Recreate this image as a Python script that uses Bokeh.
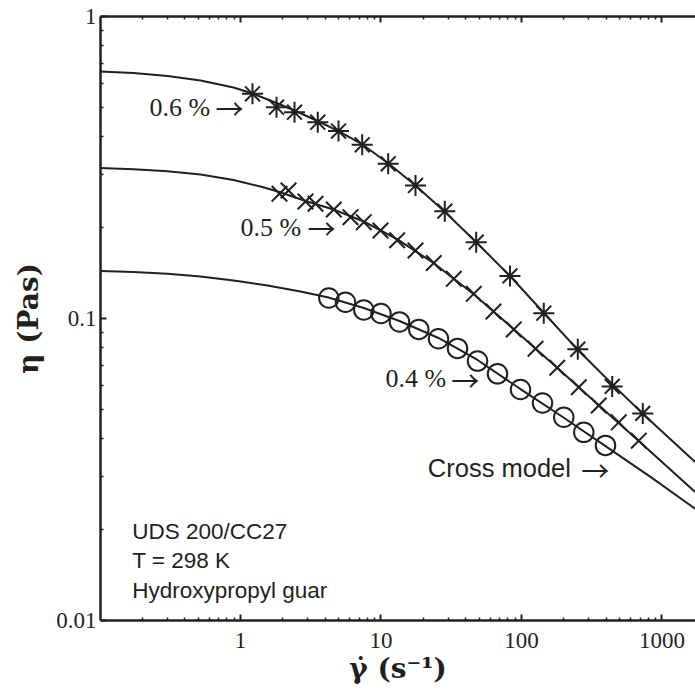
import math
from bokeh.plotting import figure
from bokeh.models import Range1d, LogAxis, Label, CustomJSTickFormatter, FixedTicker
from bokeh.embed import file_html
from bokeh.resources import INLINE

# ---------------- data ----------------
# 0.6 % (asterisks)
star_x = [1.217, 1.804, 2.423, 3.549, 4.984, 7.349, 11.25, 17.60, 28.45, 47.60,
          82.80, 144.1, 251.6, 442.2, 730.0]
star_y = [0.5546, 0.5008, 0.4820, 0.4467, 0.4176, 0.3760, 0.3253, 0.2757, 0.2266, 0.1789,
          0.1384, 0.1041, 0.0791, 0.0596, 0.0485]
# 0.5 % (crosses)
cross_x = [1.895, 2.196, 2.901, 3.419, 4.614, 6.065, 7.544, 9.918, 13.04, 17.60, 23.76,
           32.97, 45.76, 63.20, 88.14, 125.8, 179.6, 255.7, 354.9, 492.7, 683.7]
cross_y = [0.2588, 0.2653, 0.2440, 0.2398, 0.2296, 0.2165, 0.2084, 0.1956, 0.1816, 0.1680, 0.1527,
           0.1353, 0.1207, 0.1055, 0.0920, 0.0794, 0.0687, 0.0592, 0.0515, 0.0453, 0.0394]
# 0.4 % (circles)
circ_x = [4.252, 5.588, 7.544, 10.0, 13.54, 18.58, 25.66, 35.04, 48.63, 67.49,
          98.38, 141.1, 200.0, 277.6, 396.2]
circ_y = [0.1169, 0.1132, 0.1067, 0.1039, 0.0974, 0.0920, 0.0857, 0.0796, 0.0723, 0.0656,
          0.0582, 0.0525, 0.0471, 0.0420, 0.0380]

# Cross-model curves
fit6_x = [0.1, 0.1731, 0.3022, 0.5192, 0.8916, 1.217, 1.804, 2.423, 3.532, 4.984, 7.384,
          11.31, 17.60, 28.31, 47.83, 83.49, 143.4, 250.4, 444.4, 726.3, 1730]
fit6_y = [0.6574, 0.6499, 0.6353, 0.6139, 0.5818, 0.5559, 0.5171, 0.4884, 0.4508, 0.4176, 0.3769,
          0.3260, 0.2757, 0.2261, 0.1785, 0.1377, 0.1047, 0.0789, 0.0605, 0.0485, 0.0334]
fit5_x = [0.1, 0.1731, 0.3022, 0.5192, 0.8916, 1.388, 1.895, 2.901, 4.591, 7.544, 13.10,
          23.64, 45.54, 87.70, 180.4, 353.2, 680.2, 1730]
fit5_y = [0.3150, 0.3119, 0.3072, 0.2998, 0.2875, 0.2736, 0.2623, 0.2449, 0.2296, 0.2095, 0.1827,
          0.1527, 0.1206, 0.0923, 0.0686, 0.0517, 0.0394, 0.0266]
fit4_x = [0.1, 0.1731, 0.3022, 0.5192, 0.8916, 1.557, 2.673, 4.230, 7.544, 13.54, 25.66,
          48.63, 98.38, 199.0, 396.2, 828.2, 1730]
fit4_y = [0.1437, 0.1426, 0.1406, 0.1377, 0.1336, 0.1286, 0.1229, 0.1174, 0.1083, 0.0981, 0.0862,
          0.0729, 0.0584, 0.0470, 0.0378, 0.0299, 0.0234]

x_major = [0.1, 1, 10, 100, 1000]
y_major = [0.01, 0.1, 1]
x_minor = [m * d for d in [0.1, 1, 10, 100, 1000] for m in range(2, 10)]
y_minor = [m * d for d in [0.01, 0.1] for m in range(2, 10)]

x_title = "γ̇ (s⁻¹)"
y_title = "η (Pas)"

INK = "#231f20"

p = figure(width=695, height=693, x_axis_type="log", y_axis_type="log",
           x_range=Range1d(0.1008, 1732), y_range=Range1d(0.01, 1),
           output_backend="svg", toolbar_location=None,
           min_border_left=100, min_border_right=0, min_border_top=16, min_border_bottom=73)
p.outline_line_color = None
p.grid.visible = False
p.background_fill_color = "white"
p.border_fill_color = "white"

fmt = CustomJSTickFormatter(code="""
const e = Math.round(Math.log10(tick));
return e >= 0 ? String(Math.pow(10, e)) : Math.pow(10, e).toFixed(-e);
""")

def style_axis(ax, ticker, formatter):
    ax.ticker = ticker
    ax.formatter = formatter
    ax.axis_line_color = INK
    ax.axis_line_width = 2.5
    ax.major_tick_line_color = INK
    ax.major_tick_line_width = 2
    ax.minor_tick_line_color = INK
    ax.minor_tick_line_width = 1.5
    ax.major_tick_in = 6
    ax.major_tick_out = 0
    ax.minor_tick_in = 3
    ax.minor_tick_out = 0
    ax.major_label_text_font = "Liberation Serif"
    ax.major_label_text_font_size = "23px"
    ax.major_label_text_color = INK

xt = FixedTicker(ticks=x_major, minor_ticks=x_minor)
yt = FixedTicker(ticks=y_major, minor_ticks=y_minor)
xa, ya = p.xaxis[0], p.yaxis[0]
style_axis(xa, xt, fmt)
style_axis(ya, yt, fmt)
xa.major_label_standoff = 12
ya.major_label_standoff = 4

for ax, txt in [(xa, x_title), (ya, y_title)]:
    ax.axis_label = txt
    ax.axis_label_text_font = "DejaVu Serif"
    ax.axis_label_text_font_size = "28px"
    ax.axis_label_text_font_style = "bold"
    ax.axis_label_text_color = INK
xa.axis_label_standoff = 1
ya.axis_label_standoff = 8

top = LogAxis()
style_axis(top, FixedTicker(ticks=x_major, minor_ticks=x_minor),
           CustomJSTickFormatter(code="return '';"))
top.major_label_standoff = 0
p.add_layout(top, "above")

# curves
for fx, fy in [(fit6_x, fit6_y), (fit5_x, fit5_y), (fit4_x, fit4_y)]:
    p.line(fx, fy, line_color=INK, line_width=2)

p.scatter(star_x, star_y, marker="asterisk", size=21, line_color=INK, line_width=2)
p.scatter(cross_x, cross_y, marker="x", size=22, line_color=INK, line_width=2)
p.scatter(circ_x, circ_y, marker="circle", size=19.5, line_color=INK, line_width=2,
          fill_color=None)

def lab(x, y, text, font, size, style="normal"):
    p.add_layout(Label(x=x, y=y, text=text, text_font=font, text_font_size=size,
                       text_font_style=style, text_color=INK,
                       text_align="left", text_baseline="alphabetic"))

serif = "Liberation Serif"
sans = "Liberation Sans"
arrow_font = "Noto Sans CJK JP"
lab(0.2251, 0.4996, "0.6 %", serif, "26px")
lab(0.6638, 0.4973, "→", arrow_font, "28px")
lab(1.0, 0.1996, "0.5 %", serif, "26px")
lab(2.999, 0.1992, "→", arrow_font, "28px")
lab(10.77, 0.06313, "0.4 %", serif, "26px")
lab(31.60, 0.06266, "→", arrow_font, "28px")
lab(21.54, 0.03191, "Cross model", sans, "25.5px")
lab(266.1, 0.03155, "→", arrow_font, "28px")
lab(0.1695, 0.01978, "UDS 200/CC27", sans, "22.5px")
lab(0.1695, 0.01583, "T = 298 K", sans, "22.5px")
lab(0.1695, 0.01259, "Hydroxypropyl guar", sans, "22.5px")

open("out.html", "w").write(file_html(p, INLINE))
